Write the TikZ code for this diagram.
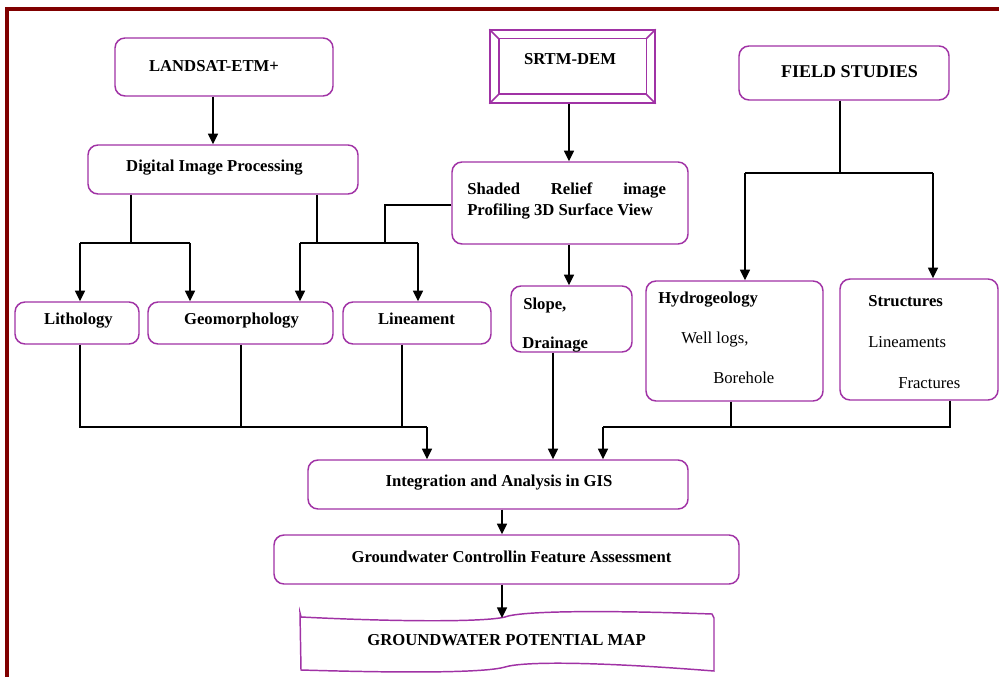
\documentclass[tikz,border=0pt]{standalone}
\usepackage{fontspec}
\setmainfont{Liberation Serif}
\usetikzlibrary{arrows.meta}
\definecolor{boxc}{RGB}{160,50,165}
\definecolor{framec}{RGB}{128,0,0}
\newcommand\bfnt{\bfseries\fontsize{12.5}{15}\selectfont}
\newcommand\bfbig{\bfseries\fontsize{13.5}{16}\selectfont}
\newcommand\rgnt{\fontsize{12.5}{15}\selectfont}
\begin{document}
\begin{tikzpicture}[x=0.75pt,y=-0.75pt,
  box/.style={draw=boxc, line width=1.1pt, rounded corners=7.5pt, inner sep=0pt, fill=white},
  sz/.style 2 args={minimum width=#1*0.75pt, minimum height=#2*0.75pt},
  ln/.style={line width=1.1pt, draw=black},
  arr/.style={ln, -{Triangle[length=8pt,width=7.5pt]}},
  txt/.style={font=\bfnt, inner sep=0pt, anchor=base},
  ntxt/.style={font=\rgnt, inner sep=0pt, anchor=base west}]
\useasboundingbox (0,0) rectangle (999,677);
\fill[white] (0,0) rectangle (999,677);
\begin{scope}
\clip (0,0) rectangle (999,677);
\draw[draw=framec, line width=2.6pt] (7,9) rectangle (1020,700);
\end{scope}

% boxes
\node[box, sz={218}{58}] (land) at (224,67) {};
\node[txt] (landt) at (214,72) {LANDSAT-ETM+};
\node[box, sz={270}{49}] (dip) at (223,169.5) {};
\node[txt] (dipt) at (214.5,172) {Digital Image Processing};
\node[draw=boxc, line width=1.1pt, inner sep=0pt, sz={165}{73}] (srtm) at (572.5,66.5) {};
\draw[draw=boxc, line width=1.1pt] ([shift={(9.5,9.5)}]srtm.north west) rectangle ([shift={(-9.5,-9.5)}]srtm.south east);
\draw[draw=boxc, line width=1.1pt] (srtm.north west) -- ++(9.5,9.5);
\draw[draw=boxc, line width=1.1pt] (srtm.north east) -- ++(-9.5,9.5);
\draw[draw=boxc, line width=1.1pt] (srtm.south west) -- ++(9.5,-9.5);
\draw[draw=boxc, line width=1.1pt] (srtm.south east) -- ++(-9.5,-9.5);
\node[txt] (srtmt) at (570,65) {SRTM-DEM};
\node[box, sz={236}{82}] (shaded) at (570,203) {};
\node[txt, anchor=base west] (sh1) at (467,195) {\makebox[149pt][s]{Shaded\hfill Relief\hfill image}};
\node[txt, anchor=base west] (sh2) at (467,216) {Profiling 3D Surface View};
\node[box, sz={210}{54}] (field) at (844,73) {};
\node[txt, font=\bfbig] (fieldt) at (849.5,78) {FIELD STUDIES};

\node[box, sz={124}{42}] (lith) at (77,323) {};
\node[txt] (litht) at (78.5,325) {Lithology};
\node[box, sz={185}{42}] (geo) at (240.5,323) {};
\node[txt] (geot) at (241.5,325) {Geomorphology};
\node[box, sz={148}{42}] (lin) at (417,323) {};
\node[txt] (lint) at (416.5,325) {Lineament};
\node[box, sz={121}{66}] (slope) at (571.5,319) {};
\node[txt, anchor=base west] (slt1) at (523,309) {Slope,};
\node[txt, anchor=base west] (slt2) at (522,348) {Drainage};
\node[box, sz={177}{120}] (hydro) at (734.5,341) {};
\node[txt, anchor=base west] (hyt1) at (658,303) {Hydrogeology};
\node[ntxt] (hyt2) at (681,343) {Well logs,};
\node[ntxt] (hyt3) at (713,383) {Borehole};
\node[box, sz={158}{121}] (struct) at (919,339.5) {};
\node[txt, anchor=base west] (stt1) at (868,306) {Structures};
\node[ntxt] (stt2) at (868,347) {Lineaments};
\node[ntxt] (stt3) at (898,388) {Fractures};

\node[box, sz={380}{49}] (integ) at (498,484.5) {};
\node[txt] (integt) at (499,486) {Integration and Analysis in GIS};
\node[box, sz={465}{49}] (gwc) at (506.5,559.5) {};
\node[txt] (gwct) at (511.5,562) {Groundwater Controllin Feature Assessment};

% map (document / tape shape)
\draw[draw=boxc, line width=1.1pt, fill=white]
  (300,613) -- (301,617) .. controls (400,622) and (485,622) .. (505,617)
  .. controls (520,611) and (600,610) .. (712,614) -- (714,618)
  -- (714,671) .. controls (600,662) and (525,661) .. (505,667)
  .. controls (485,673) and (400,673) .. (301,670) -- cycle;
\node[txt] (mapt) at (506.5,645) {GROUNDWATER POTENTIAL MAP};
\coordinate (maptop) at (502,618);

% connectors
\coordinate (a1) at (213,0);
\draw[arr] (a1 |- land.south) -- (a1 |- dip.north);
\coordinate (a2) at (569,0);
\draw[arr] (a2 |- srtm.south) -- (a2 |- shaded.north);
\draw[arr] (a2 |- shaded.south) -- (a2 |- slope.north);

\coordinate (f0) at (840,173);
\coordinate (fl) at (745,173);
\coordinate (fr) at (933,173);
\draw[ln] (f0 |- field.south) -- (f0);
\draw[ln] (fl) -- (fr);
\draw[arr] (fl) -- (fl |- hydro.north);
\draw[arr] (fr) -- (fr |- struct.north);

\coordinate (d1) at (131,243);
\coordinate (d1l) at (80,243);
\coordinate (d1r) at (190,243);
\draw[ln] (d1 |- dip.south) -- (d1);
\draw[ln] (d1l) -- (d1r);
\draw[arr] (d1l) -- (d1l |- lith.north);
\draw[arr] (d1r) -- (d1r |- geo.north);
\coordinate (d2) at (317,243);
\coordinate (d2l) at (300,243);
\coordinate (d2r) at (418,243);
\draw[ln] (d2 |- dip.south) -- (d2);
\draw[ln] (d2l) -- (d2r);
\draw[arr] (d2l) -- (d2l |- geo.north);
\draw[arr] (d2r) -- (d2r |- lin.north);
\coordinate (s0) at (385,205);
\coordinate (s1) at (385,243);
\draw[ln] (s0 -| shaded.west) -- (s0) -- (s1);

\coordinate (b1) at (80,427);
\coordinate (b2) at (241,427);
\coordinate (b3) at (402,427);
\coordinate (bj) at (427,427);
\draw[ln] (b1 |- lith.south) -- (b1) -- (bj);
\draw[ln] (b2 |- geo.south) -- (b2);
\draw[ln] (b3 |- lin.south) -- (b3);
\draw[arr] (bj) -- (bj |- integ.north);
\coordinate (b4) at (553,0);
\draw[arr] (b4 |- slope.south) -- (b4 |- integ.north);
\coordinate (r1) at (603,427);
\coordinate (r2) at (731,427);
\coordinate (r3) at (950,427);
\draw[ln] (r2 |- hydro.south) -- (r2);
\draw[ln] (r3 |- struct.south) -- (r3) -- (r1);
\draw[arr] (r1) -- (r1 |- integ.north);
\coordinate (c1) at (502,0);
\draw[arr] (c1 |- integ.south) -- (c1 |- gwc.north);
\draw[arr] (c1 |- gwc.south) -- (maptop);
\end{tikzpicture}
\end{document}
